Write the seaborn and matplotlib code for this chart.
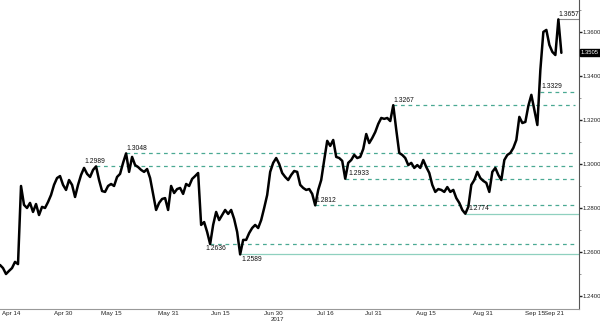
import numpy as np
import pandas as pd
import matplotlib
matplotlib.use("Agg")
import matplotlib.pyplot as plt
import matplotlib.transforms as mtransforms
import seaborn as sns

# ---- data -------------------------------------------------------------
prices = [
    1.2541, 1.2527, 1.2500, 1.2514, 1.2527, 1.2555, 1.2545, 1.2900, 1.2814, 1.2800,
    1.2823, 1.2782, 1.2818, 1.2768, 1.2805, 1.2800, 1.2827, 1.2859, 1.2905, 1.2936,
    1.2945, 1.2905, 1.2882, 1.2927, 1.2905, 1.2850, 1.2905, 1.2950, 1.2982, 1.2955,
    1.2941, 1.2973, 1.2989, 1.2927, 1.2877, 1.2873, 1.2900, 1.2909, 1.2900, 1.2941,
    1.2955, 1.3005, 1.3048, 1.2964, 1.3032, 1.2995, 1.2986, 1.2973, 1.2964, 1.2977,
    1.2936, 1.2864, 1.2791, 1.2823, 1.2841, 1.2845, 1.2791, 1.2900, 1.2868, 1.2886,
    1.2891, 1.2864, 1.2909, 1.2900, 1.2932, 1.2945, 1.2959, 1.2723, 1.2736, 1.2691,
    1.2636, 1.2723, 1.2782, 1.2745, 1.2768, 1.2791, 1.2773, 1.2791, 1.2750, 1.2691,
    1.2589, 1.2655, 1.2655, 1.2686, 1.2709, 1.2723, 1.2709, 1.2745, 1.2800, 1.2859,
    1.2964, 1.3005, 1.3027, 1.3000, 1.2959, 1.2941, 1.2927, 1.2950, 1.2968, 1.2964,
    1.2905, 1.2891, 1.2882, 1.2886, 1.2864, 1.2812, 1.2882, 1.2927, 1.3018, 1.3105,
    1.3082, 1.3109, 1.3032, 1.3027, 1.3014, 1.2933, 1.3005, 1.3018, 1.3041, 1.3027,
    1.3032, 1.3068, 1.3136, 1.3095, 1.3118, 1.3145, 1.3182, 1.3209, 1.3205, 1.3209,
    1.3195, 1.3267, 1.3155, 1.3050, 1.3041, 1.3027, 1.2995, 1.3005, 1.2982, 1.2995,
    1.2982, 1.3018, 1.2986, 1.2959, 1.2905, 1.2873, 1.2886, 1.2882, 1.2873, 1.2895,
    1.2873, 1.2882, 1.2845, 1.2823, 1.2791, 1.2774, 1.2805, 1.2905, 1.2927, 1.2964,
    1.2936, 1.2923, 1.2914, 1.2873, 1.2964, 1.2982, 1.2950, 1.2927, 1.3018, 1.3041,
    1.3050, 1.3073, 1.3109, 1.3214, 1.3186, 1.3191, 1.3264, 1.3314, 1.3245, 1.3177,
    1.3427, 1.3600, 1.3609, 1.3541, 1.3509, 1.3495, 1.3657, 1.3505,
]
# trading-day offset of the first sample relative to 14 Apr 2017, and sample spacing
first_day = -2.31
sample_step = 0.63

tick_dates = ["2017-04-14", "2017-04-30", "2017-05-15", "2017-05-31", "2017-06-15",
              "2017-06-30", "2017-07-16", "2017-07-31", "2017-08-15", "2017-08-31",
              "2017-09-15", "2017-09-21"]
tick_labels = ["Apr 14", "Apr 30", "May 15", "May 31", "Jun 15", "Jun 30",
               "Jul 16", "Jul 31", "Aug 15", "Aug 31", "Sep 15", "Sep 21"]

# support / resistance levels: value, index of the sample where it starts, style, label side
levels =      [1.2989, 1.3048, 1.2636, 1.2589, 1.2812, 1.2933, 1.3267, 1.2774, 1.3329, 1.3657]
level_start = [32,     42,     70,     80,     105,    115,    131,    155,    180,    186]
level_kind =  ["dash", "dash", "dash", "solid", "dash", "dash", "dash", "solid", "dash", "top"]
label_side =  ["above", "above", "below", "below", "above", "above", "above", "above", "above", "above"]
label_dx =    [-2.5,   0.0,    -1.0,   0.3,    0.0,    0.6,    0.0,    0.6,    0.2,    0.0]

last_value = 1.3505
y_ticks = [1.24, 1.26, 1.28, 1.30, 1.32, 1.34, 1.36]

# ---- figure -------------------------------------------------------------
sns.set_theme(style="white")
plt.rcParams["font.family"] = ["Liberation Sans", "DejaVu Sans"]

fig = plt.figure(figsize=(6.0, 3.23), dpi=100)
ax = fig.add_axes([0.0, 14 / 323, 579 / 600, 309 / 323])

days = first_day + sample_step * np.arange(len(prices))
df = pd.DataFrame({"day": days, "price": prices})
sns.lineplot(data=df, x="day", y="price", ax=ax, color="black", linewidth=1.8)

x_right = 119.2
dash_end = 118.4
for v, si, kind, side, dx in zip(levels, level_start, level_kind, label_side, label_dx):
    x0 = days[si]
    if kind == "dash":
        ax.plot([x0, dash_end], [v, v], color="#4aa993", lw=0.9, ls=(0, (3, 3)), zorder=1)
    elif kind == "solid":
        ax.plot([x0, x_right], [v, v], color="#8fd0bf", lw=0.9, zorder=1)
    else:
        ax.plot([x0, x_right], [v, v], color="#8a8a8a", lw=0.8, zorder=1)
    if side == "above":
        ax.text(x0 + dx, v + 0.0007, f"{v:.4f}", fontsize=4.9, color="#111111",
                ha="left", va="bottom")
    else:
        ax.text(x0 + dx, v - 0.0005, f"{v:.4f}", fontsize=4.9, color="#111111",
                ha="left", va="top")

ax.set_xlim(first_day, x_right)
ax.set_ylim(1.2341, 1.3745)

# x ticks on trading-day scale
tick_pos = [np.busday_count("2017-04-14", d) for d in tick_dates]
ax.set_xticks(tick_pos)
ax.set_xticklabels(tick_labels)
mids = [(a + b) / 2 for a, b in zip(tick_pos[:-1], tick_pos[1:])]
ax.set_xticks(mids, minor=True)
ax.tick_params(axis="x", which="major", length=0, pad=1.2, labelsize=4.5, colors="#222222")
ax.tick_params(axis="x", which="minor", length=2, width=0.6, color="#999999", direction="out")
ax.text(tick_pos[5] + 1.0, -0.034, "2017",
        transform=mtransforms.blended_transform_factory(ax.transData, ax.transAxes),
        fontsize=4.3, ha="center", va="center", color="#222222")

# y axis on the right
ax.yaxis.tick_right()
ax.set_yticks(y_ticks)
ax.set_yticklabels([f"{t:.4f}" for t in y_ticks])
ax.set_yticks([1.25, 1.27, 1.29, 1.31, 1.33, 1.35, 1.37], minor=True)
ax.tick_params(axis="y", which="major", length=2, width=1.0, pad=0.8, labelsize=4.3,
               colors="#222222", direction="out")
ax.tick_params(axis="y", which="minor", length=1.5, width=0.6, color="#888888", direction="out")
ax.set_xlabel("")
ax.set_ylabel("")

for s in ["top", "left"]:
    ax.spines[s].set_visible(False)
ax.spines["right"].set_color("#555555")
ax.spines["right"].set_linewidth(0.8)
ax.spines["bottom"].set_color("#999999")
ax.spines["bottom"].set_linewidth(0.8)

# last value box
trans = mtransforms.blended_transform_factory(ax.transAxes, ax.transData)
ax.text(1.003, last_value, f"{last_value:.4f}", transform=trans, fontsize=4.2, color="white",
        ha="left", va="center",
        bbox=dict(boxstyle="square,pad=0.2", facecolor="black", edgecolor="black"))

fig.savefig("out.png", dpi=100)
